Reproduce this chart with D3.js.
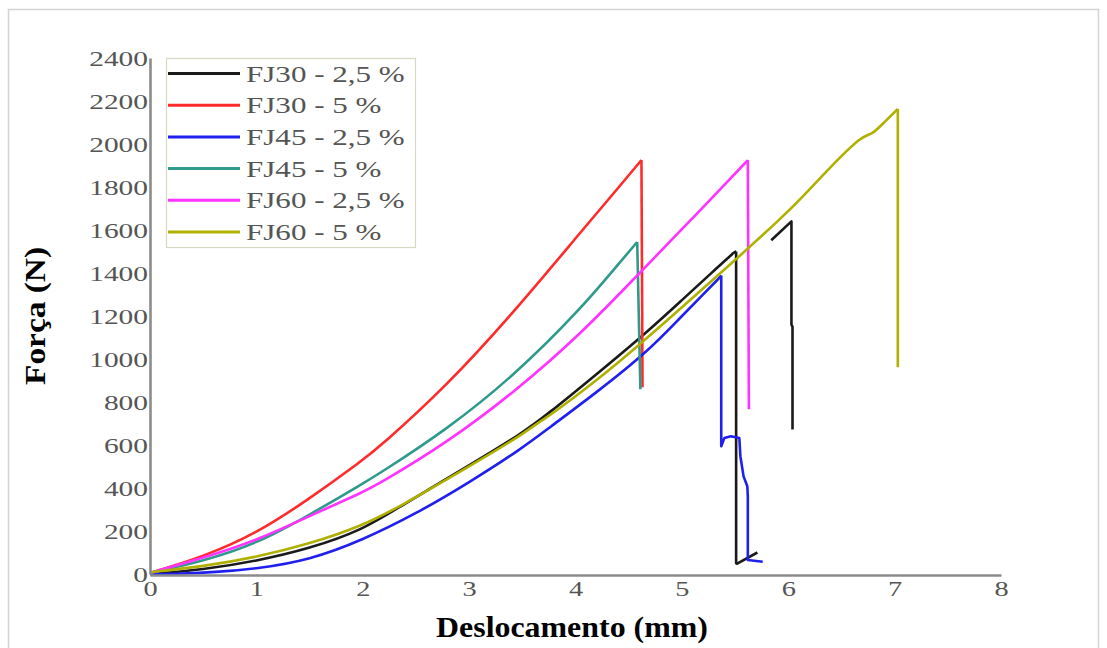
<!DOCTYPE html>
<html>
<head>
<meta charset="utf-8">
<script src="https://cdn.jsdelivr.net/npm/d3@7"></script>
<style>
  html, body { margin: 0; padding: 0; background: #fff; }
  svg { display: block; }
  text { font-family: "Liberation Serif", "Times New Roman", serif; }
</style>
</head>
<body>
<svg id="chart" width="1107" height="648"></svg>
<script>
// ---- data (displacement mm, force N); [null,null] marks a gap ----
const seriesNames = ["FJ30 - 2,5 %", "FJ30 - 5 %", "FJ45 - 2,5 %", "FJ45 - 5 %", "FJ60 - 2,5 %", "FJ60 - 5 %"];
const seriesColors = ["#1a1a1a", "#ff2b2b", "#1f1fef", "#2e9a8c", "#ff33ff", "#b0b000"];

const FJ30_25 = [[0,0],[0.5,20],[1,60],[1.5,118],[2,205],[2.35,314],[3,505],[3.5,655],[3.73,740],[4.2,930],[4.67,1124],[5.0,1274],[5.3,1410],[5.49,1497],[5.51,1500],[5.51,50],[5.52,48],[5.71,100],
                 [null,null],[5.84,1552],[6.03,1640],[6.03,1160],[6.04,1150],[6.04,672]];
const FJ30_5  = [[0,5],[0.5,80],[1,188],[1.5,350],[2,530],[2.165,594],[2.79,875],[3.42,1217],[4.05,1591],[4.4,1795],[4.62,1925],[4.63,868]];
const FJ45_25 = [[0,0],[0.3,2],[0.6,8],[1,24],[1.5,65],[2,158],[2.5,280],[3,425],[3.5,585],[3.73,672],[4.2,845],[4.67,1030],[5.0,1200],[5.2,1300],[5.36,1381],[5.37,1388],
                 [5.37,594],[5.40,633],[5.46,641],[5.54,633],[5.55,548],[5.58,454],[5.615,408],[5.62,361],[5.62,65],[5.76,57]];
const FJ45_5  = [[0,5],[0.5,60],[1,140],[1.5,275],[2,420],[2.165,470],[2.79,672],[3.42,921],[4.05,1233],[4.4,1440],[4.58,1544],[4.61,859]];
const FJ60_25 = [[0,5],[0.5,75],[1,155],[1.5,270],[2,380],[2.165,423],[2.79,610],[3.42,844],[4.05,1115],[4.67,1435],[4.99,1598],[5.4,1810],[5.62,1925],[5.63,766]];
const FJ60_5  = [[0,8],[0.5,35],[1,78],[1.5,140],[2,225],[2.35,314],[3,500],[3.5,648],[3.7,722],[3.74,730],[4.2,900],[4.61,1070],[5.0,1240],[5.49,1455],[5.93,1653],[6.12,1746],[6.4,1895],[6.70,2042],[6.78,2040],[6.9,2100],[7.03,2163],[7.03,962]];

const allSeries = [FJ30_25, FJ30_5, FJ45_25, FJ45_5, FJ60_25, FJ60_5];
const xTicks = [0,1,2,3,4,5,6,7,8];
const yTicks = [0,200,400,600,800,1000,1200,1400,1600,1800,2000,2200,2400];
const xTitle = "Deslocamento (mm)";
const yTitle = "Força (N)";

// ---- drawing ----
const svg = d3.select("#chart");
const x = d3.scaleLinear().domain([0, 8]).range([150, 1001]);
const y = d3.scaleLinear().domain([0, 2400]).range([574, 58]);

function stretch(sel, f) {
  sel.each(function () {
    const w = this.getComputedTextLength();
    this.setAttribute("textLength", w * f);
    this.setAttribute("lengthAdjust", "spacingAndGlyphs");
  });
}

// split a series into its smooth loading part and its (straight) failure part
function splitRise(s) {
  let k = 1;
  while (k < s.length && s[k][0] !== null && s[k][0] > s[k - 1][0] && s[k][1] > s[k - 1][1] - 100) k++;
  return [s.slice(0, k), s.slice(k - 1)];
}

// outer frame
svg.append("rect").attr("x", 8.5).attr("y", 9.5).attr("width", 1090).attr("height", 700)
  .attr("fill", "none").attr("stroke", "#d4d4d4").attr("stroke-width", 1.5);

// lines
const smooth = d3.line().curve(d3.curveBasis).x(d => x(d[0])).y(d => y(d[1]));
const straight = d3.line().defined(d => d[1] !== null).x(d => x(d[0])).y(d => y(d[1]));
allSeries.forEach((s, i) => {
  const [rise, fail] = splitRise(s);
  const g = svg.append("g").attr("fill", "none").attr("stroke", seriesColors[i])
    .attr("stroke-width", 2.6).attr("stroke-linejoin", "round");
  g.append("path").datum(rise).attr("d", smooth);
  if (fail.length > 1) g.append("path").datum(fail).attr("d", straight);
});

// axes
const gx = svg.append("g").attr("transform", "translate(0,575)")
  .call(d3.axisBottom(x).tickValues(xTicks).tickSize(0).tickSizeOuter(0).tickPadding(6).tickFormat(d3.format("d")));
const gy = svg.append("g").attr("transform", "translate(150,0)")
  .call(d3.axisLeft(y).tickValues(yTicks).tickSize(0).tickSizeOuter(0).tickPadding(2).tickFormat(d3.format("d")));
[gx, gy].forEach(g => {
  g.select(".domain").attr("stroke", "#8c8c8c").attr("stroke-width", 2.6);
  g.selectAll("text").attr("font-family", "Liberation Serif, serif").attr("font-size", 21).attr("fill", "#555");
});
gy.selectAll("text").attr("dy", "0.36em");
stretch(gy.selectAll("text"), 1.4);
stretch(gx.selectAll("text"), 1.35);

// axis titles
const xt = svg.append("text").attr("x", 572).attr("y", 637).attr("text-anchor", "middle")
  .attr("font-size", 29).attr("font-weight", "bold").attr("fill", "#000").text(xTitle);
stretch(xt, 1.1);
const yt = svg.append("text").attr("transform", "translate(45,316) rotate(-90)").attr("text-anchor", "middle")
  .attr("font-size", 29).attr("font-weight", "bold").attr("fill", "#000").text(yTitle);
stretch(yt, 1.15);

// legend
const lg = svg.append("g");
lg.append("rect").attr("x", 166.5).attr("y", 58.5).attr("width", 249).attr("height", 189)
  .attr("fill", "#fff").attr("stroke", "#d8d8c4").attr("stroke-width", 1.2);
seriesNames.forEach((name, i) => {
  const cy = 73.5 + i * 31.7;
  lg.append("line").attr("x1", 168).attr("x2", 240).attr("y1", cy).attr("y2", cy)
    .attr("stroke", seriesColors[i]).attr("stroke-width", 3);
  const t = lg.append("text").attr("x", 246).attr("y", cy + 8).attr("font-size", 23)
    .attr("fill", "#555").text(name);
  stretch(t, 1.35);
});
</script>
</body>
</html>
